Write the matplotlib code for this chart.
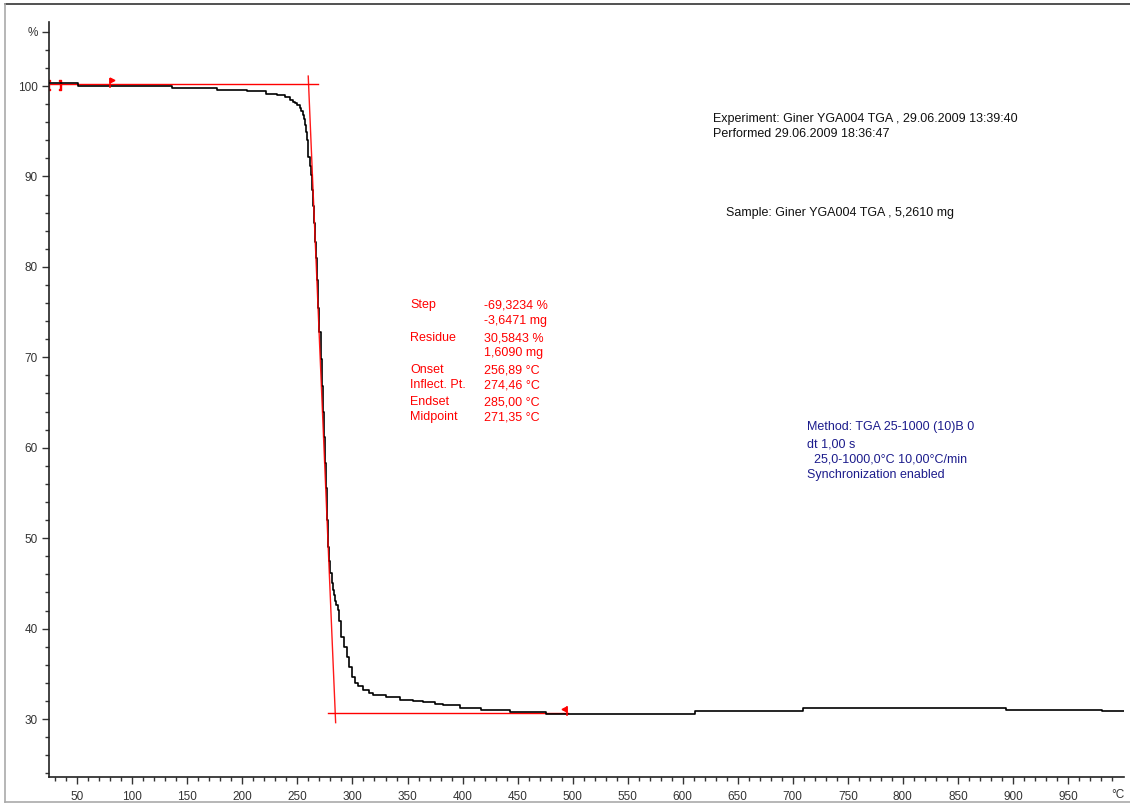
"""TGA curve, Giner YGA004."""

import matplotlib
matplotlib.use("Agg")
import matplotlib.pyplot as plt
from matplotlib.lines import Line2D
from matplotlib.ticker import MultipleLocator, FixedLocator

plt.rcParams['font.family'] = ['Liberation Sans', 'DejaVu Sans']

# measured curve (temperature in degC, weight in %)
TEMP = [24.3, 50.6, 136, 177, 204, 221, 231, 238.7, 243, 246, 248, 250,
        252, 253.5, 255, 256, 257, 258, 258.6, 259.3, 260, 261, 262, 263,
        264, 265, 266, 267, 268, 269, 270, 271, 272, 273, 274, 275, 276,
        277, 278, 279, 280, 281, 282, 283, 284, 285, 286.6, 288, 290, 292,
        294.7, 297, 299.3, 302, 305, 310, 315, 319, 330, 343, 355, 364, 375,
        382.5, 398, 417, 443, 476, 611, 709, 894, 981, 1001]
WEIGHT = [100.3, 100.0, 99.8, 99.6, 99.4, 99.15, 99.0, 98.75, 98.5, 98.25,
          98.1, 97.85, 97.6, 97.2, 96.8, 96.3, 95.7, 94.9, 94.0, 93.1, 92.2,
          91.2, 90.2, 88.5, 86.7, 84.8, 82.8, 81.0, 78.5, 75.5, 72.8, 69.8,
          66.8, 64.0, 61.2, 58.3, 55.5, 52.0, 49.0, 47.5, 46.2, 45.0, 44.3,
          43.7, 43.1, 42.6, 42.1, 40.8, 39.1, 38.0, 36.9, 35.8, 34.7, 34.0,
          33.6, 33.2, 32.9, 32.65, 32.4, 32.1, 31.95, 31.85, 31.65, 31.5,
          31.25, 31.0, 30.8, 30.6, 30.85, 31.2, 31.0, 30.9, 30.9]

# step evaluation
UPPER_LEVEL = 100.22
UPPER_RANGE = [24.3, 268.6]
LOWER_LEVEL = 30.64
LOWER_RANGE = [278, 495.6]
TANGENT_T = [259.8, 284.7]
TANGENT_W = [101.1, 29.6]
LIMIT_T = [24.6, 34.3]
FLAG_T = [79.8, 494.6]
FLAG_W = [100.35, 30.85]

Y_TICKS = [30, 40, 50, 60, 70, 80, 90, 100, 106]
Y_LABELS = ['30', '40', '50', '60', '70', '80', '90', '100', '%']
X_TICKS = list(range(50, 1000, 50))

RESULT_NAMES = ['Step', '', 'Residue', '', 'Onset', 'Inflect. Pt.', 'Endset', 'Midpoint']
RESULT_VALUES = ['-69,3234 %', '-3,6471 mg', '30,5843 %', '1,6090 mg',
                 '256,89 °C', '274,46 °C', '285,00 °C', '271,35 °C']
RESULT_Y = [305, 321, 338, 353, 370, 385, 402, 417]
METHOD_LINES = ['Method: TGA 25-1000 (10)B 0', 'dt 1,00 s',
                '  25,0-1000,0°C 10,00°C/min', 'Synchronization enabled']
METHOD_Y = [427, 444, 459, 475]

W, H = 1130, 805
fig = plt.figure(figsize=(W / 100, H / 100), dpi=100)
ax = fig.add_axes([49 / W, 1 - 777 / H, (1124 - 49) / W, (777 - 22) / H])

ax.plot(TEMP, WEIGHT, color='black', lw=1.2, drawstyle='steps-post', zorder=3)

red = '#ff0000'
ax.plot(UPPER_RANGE, [UPPER_LEVEL] * 2, color=red, lw=1.0, zorder=2)
ax.plot(LOWER_RANGE, [LOWER_LEVEL] * 2, color=red, lw=1.0, zorder=2)
ax.plot(TANGENT_T, TANGENT_W, color=red, lw=1.0, zorder=4, alpha=0.9)
ax.plot(LIMIT_T[0], UPPER_LEVEL - 0.1, marker='$[$', color=red, ms=7, ls='none')
ax.plot(LIMIT_T[1], UPPER_LEVEL - 0.1, marker='$]$', color=red, ms=7, ls='none')
for t, w, m in zip(FLAG_T, FLAG_W, ['>', '<']):
    ax.plot([t, t], [w - 0.45, w + 0.45], color=red, lw=1.2, zorder=5)
    ax.plot(t + (2 if m == '>' else -2), w + 0.28, marker=m, color=red, ms=3.5, zorder=5)

ax.set_xlim(24.3, 1000.9)
ax.set_ylim(23.59, 107.08)
for s in ['top', 'right']:
    ax.spines[s].set_visible(False)
for s in ['left', 'bottom']:
    ax.spines[s].set_color('#222222')
    ax.spines[s].set_linewidth(1.2)

ax.yaxis.set_major_locator(FixedLocator(Y_TICKS))
ax.set_yticklabels(Y_LABELS)
ax.yaxis.set_minor_locator(MultipleLocator(2))
ax.xaxis.set_major_locator(FixedLocator(X_TICKS))
ax.set_xticklabels([str(x) for x in X_TICKS])
ax.xaxis.set_minor_locator(FixedLocator(range(30, 1000, 10)))
ax.tick_params(axis='both', which='major', length=5, width=1, colors='#333333',
               labelsize=8.5)
ax.tick_params(axis='both', which='minor', length=3, width=1, colors='#333333')
ax.tick_params(axis='x', which='both', pad=5)
ax.tick_params(axis='y', which='major', pad=3)


# annotations (pixel placement in figure)
def ftext(x, y, s, **kw):
    kw.setdefault('fontsize', 9)
    kw.setdefault('ha', 'left')
    fig.text(x / W, 1 - y / H, s, va='center', **kw)


ftext(1118, 795, '°C', color='#333333', fontsize=8.5, ha='center')
ftext(713, 119, 'Experiment: Giner YGA004 TGA , 29.06.2009 13:39:40', color='#111111')
ftext(713, 134, 'Performed 29.06.2009 18:36:47', color='#111111')
ftext(726, 213, 'Sample: Giner YGA004 TGA , 5,2610 mg', color='#111111')
for name, val, y in zip(RESULT_NAMES, RESULT_VALUES, RESULT_Y):
    if name:
        ftext(410, y, name, color=red)
    ftext(484, y, val, color=red)
for line, y in zip(METHOD_LINES, METHOD_Y):
    ftext(807, y, line, color='#1c1c8c')

# frame
fig.add_artist(Line2D([5 / W, 1], [1 - 4 / H] * 2, color='#333333', lw=1.2))
fig.add_artist(Line2D([5 / W] * 2, [1 - 4 / H, 1 - 802 / H], color='#aaaaaa', lw=1.2))
fig.add_artist(Line2D([5 / W, 1], [1 - 802 / H] * 2, color='#aaaaaa', lw=1.2))

fig.savefig('out.png', dpi=100)
